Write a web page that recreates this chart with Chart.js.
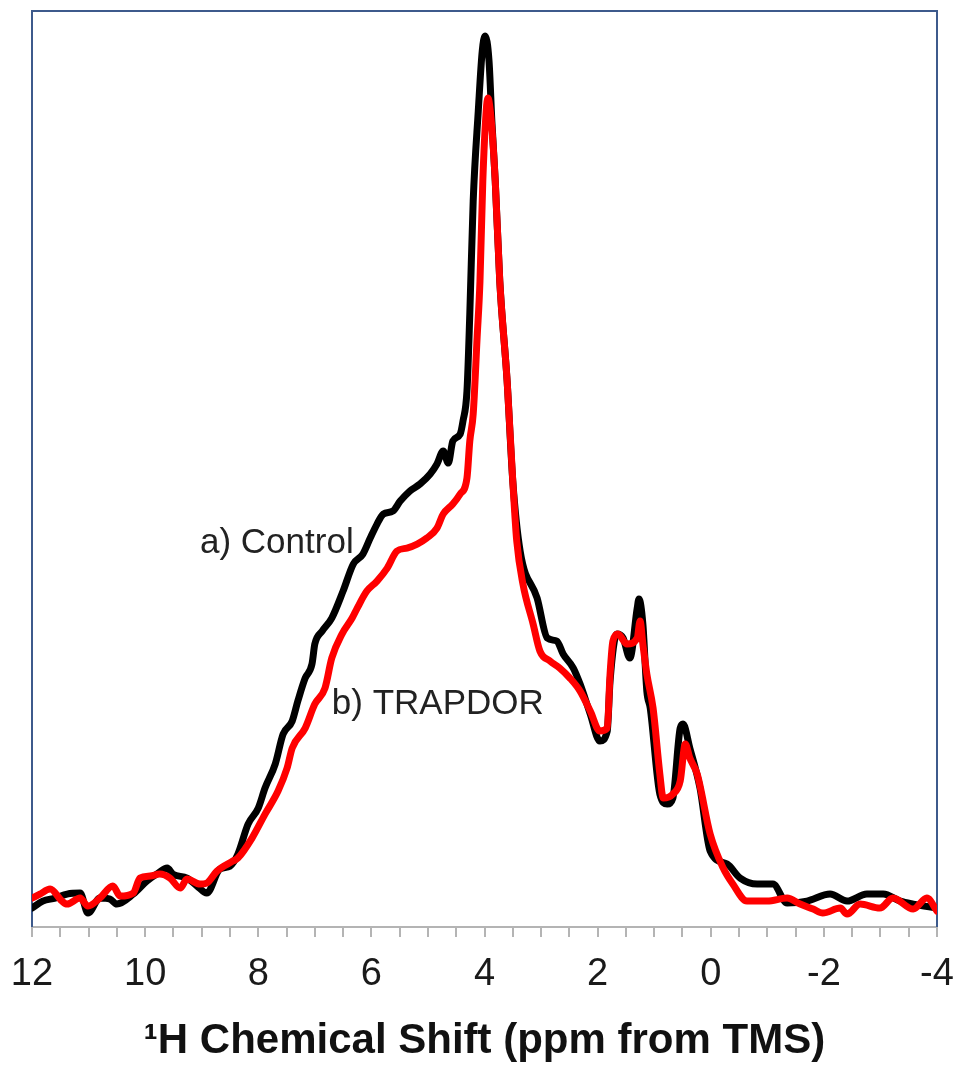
<!DOCTYPE html>
<html>
<head>
<meta charset="utf-8">
<script src="https://cdn.jsdelivr.net/npm/chart.js@4/dist/chart.umd.min.js"></script>
<style>
  body { margin: 0; background: #fff; }
  canvas { display: block; }
</style>
</head>
<body>
<canvas id="nmrChart" width="960" height="1066"></canvas>
<script>
// a) Control spectrum: [chemical shift (ppm), intensity (a.u.)]
const controlSpectrum = [
  [12.00, 19], [11.81, 26], [11.59, 29], [11.38, 33], [11.15, 34], [11.01, 14], [10.80, 29], [10.62, 28],
  [10.50, 23], [10.21, 33], [9.97, 46], [9.77, 54], [9.61, 59], [9.51, 53], [9.26, 49], [9.08, 41],
  [8.91, 34], [8.68, 58], [8.50, 61], [8.36, 73], [8.18, 103], [8.00, 119], [7.88, 139], [7.70, 163],
  [7.56, 193], [7.40, 206], [7.30, 226], [7.17, 249], [7.05, 263], [7.00, 283], [6.87, 296], [6.70, 309],
  [6.50, 336], [6.32, 363], [6.15, 373], [6.02, 389], [5.90, 403], [5.79, 413], [5.62, 416], [5.49, 426],
  [5.32, 436], [5.14, 443], [4.96, 453], [4.84, 463], [4.73, 476], [4.64, 464], [4.56, 486], [4.43, 493],
  [4.38, 506], [4.31, 536], [4.26, 613], [4.20, 726], [4.11, 816], [4.04, 876], [3.99, 891], [3.92, 866],
  [3.87, 806], [3.81, 746], [3.73, 646], [3.60, 546], [3.50, 446], [3.37, 376], [3.07, 329], [2.89, 289],
  [2.72, 286], [2.61, 273], [2.43, 259], [2.31, 243], [2.13, 213], [1.96, 186], [1.83, 196], [1.78, 246],
  [1.66, 293], [1.55, 289], [1.43, 269], [1.30, 319], [1.27, 328], [1.20, 303], [1.13, 236], [1.07, 219],
  [0.90, 133], [0.77, 123], [0.67, 129], [0.54, 199], [0.49, 203], [0.37, 179], [0.19, 139], [0.01, 76],
  [-0.29, 63], [-0.52, 49], [-0.82, 43], [-1.10, 43], [-1.35, 24], [-1.70, 26], [-2.11, 33], [-2.41, 26],
  [-2.76, 33], [-3.05, 33], [-3.35, 26], [-3.58, 23], [-4.00, 19]
];

// b) TRAPDOR spectrum
const trapdorSpectrum = [
  [12.00, 29], [11.86, 33], [11.68, 38], [11.47, 26], [11.38, 23], [11.15, 29], [11.01, 21], [10.80, 29],
  [10.57, 41], [10.44, 31], [10.21, 34], [10.09, 49], [9.91, 51], [9.74, 53], [9.56, 49], [9.38, 39],
  [9.26, 48], [9.03, 43], [8.91, 44], [8.73, 56], [8.45, 66], [8.36, 69], [8.11, 89], [7.88, 113],
  [7.65, 136], [7.49, 159], [7.40, 179], [7.17, 199], [7.00, 223], [6.82, 239], [6.70, 269], [6.52, 293],
  [6.34, 309], [6.25, 319], [6.08, 336], [5.90, 346], [5.72, 359], [5.55, 376], [5.37, 379], [5.19, 383],
  [5.02, 389], [4.84, 399], [4.73, 413], [4.56, 423], [4.43, 433], [4.31, 449], [4.26, 486], [4.20, 513],
  [4.13, 590], [4.08, 646], [4.03, 746], [3.97, 816], [3.94, 829], [3.88, 806], [3.81, 746], [3.73, 646],
  [3.60, 546], [3.50, 446], [3.43, 386], [3.32, 343], [3.14, 303], [3.02, 276], [2.84, 266], [2.67, 259],
  [2.49, 249], [2.31, 236], [2.13, 216], [1.96, 196], [1.83, 199], [1.78, 253], [1.73, 286], [1.64, 293],
  [1.48, 283], [1.30, 289], [1.25, 306], [1.20, 283], [1.13, 253], [1.02, 219], [0.90, 153], [0.84, 129],
  [0.67, 133], [0.54, 146], [0.45, 183], [0.37, 169], [0.24, 153], [0.01, 93], [-0.22, 59], [-0.39, 43],
  [-0.64, 26], [-1.00, 26], [-1.35, 29], [-1.58, 23], [-1.81, 18], [-1.98, 14], [-2.29, 19], [-2.41, 13],
  [-2.64, 23], [-2.99, 19], [-3.22, 29], [-3.58, 18], [-3.82, 29], [-4.00, 16]
];

// x axis: labelled every 2 ppm, minor ticks every 0.5 ppm
const tickLabels = [12, 10, 8, 6, 4, 2, 0, -2, -4];

// curve labels placed in data coordinates (ppm, intensity)
const curveLabels = [
  { text: 'a) Control', x: 9.03, y: 374 },
  { text: 'b) TRAPDOR', x: 6.70, y: 213 }
];

function toPoints(pairs) {
  return pairs.map(p => ({ x: p[0], y: p[1] }));
}

const frameAndLabels = {
  id: 'frameAndLabels',
  beforeDatasetsDraw(chart) {
    const { ctx, chartArea } = chart;
    ctx.save();
    ctx.strokeStyle = '#3d5a8c';
    ctx.lineWidth = 2;
    ctx.beginPath();
    ctx.moveTo(chartArea.left, chartArea.bottom);
    ctx.lineTo(chartArea.left, chartArea.top);
    ctx.lineTo(chartArea.right, chartArea.top);
    ctx.lineTo(chartArea.right, chartArea.bottom);
    ctx.stroke();
    ctx.restore();
  },
  afterDatasetsDraw(chart) {
    const { ctx, scales } = chart;
    ctx.save();
    ctx.fillStyle = '#222';
    ctx.font = '35px "Liberation Sans", Arial, sans-serif';
    ctx.textAlign = 'left';
    ctx.textBaseline = 'alphabetic';
    curveLabels.forEach(l => {
      ctx.fillText(l.text, scales.x.getPixelForValue(l.x), scales.y.getPixelForValue(l.y));
    });
    ctx.restore();
  }
};

const ctx = document.getElementById('nmrChart').getContext('2d');
const nmrChart = new Chart(ctx, {
  type: 'line',
  data: {
    datasets: [
      {
        label: 'b) TRAPDOR',
        data: toPoints(trapdorSpectrum),
        borderColor: '#ff0000',
        order: 1
      },
      {
        label: 'a) Control',
        data: toPoints(controlSpectrum),
        borderColor: '#000000',
        order: 2
      }
    ]
  },
  options: {
    responsive: false,
    animation: false,
    parsing: false,
    layout: { padding: { left: 32, right: 23, top: 11, bottom: 0 } },
    elements: {
      line: {
        borderWidth: 7,
        fill: false,
        cubicInterpolationMode: 'monotone',
        borderJoinStyle: 'round',
        borderCapStyle: 'round'
      },
      point: { radius: 0 }
    },
    plugins: {
      legend: { display: false },
      tooltip: { enabled: false }
    },
    scales: {
      x: {
        type: 'linear',
        reverse: true,
        min: -4,
        max: 12,
        border: { color: '#b4b4b4', width: 2 },
        grid: { drawOnChartArea: false, tickLength: 10, color: '#b4b4b4', lineWidth: 2 },
        ticks: {
          stepSize: 0.5,
          autoSkip: false,
          maxRotation: 0,
          padding: 5,
          color: '#1a1a1a',
          font: { family: '"Liberation Sans", Arial, sans-serif', size: 38, lineHeight: 1.7 },
          callback: value => tickLabels.includes(value) ? String(value) : ''
        },
        title: {
          display: true,
          text: '\u00B9H Chemical Shift (ppm from TMS)',
          color: '#111',
          padding: { top: 6, bottom: 0 },
          font: { family: '"Liberation Sans", Arial, sans-serif', size: 42, weight: 'bold', lineHeight: 1.15 }
        }
      },
      y: {
        display: false,
        min: 0,
        max: 916
      }
    }
  },
  plugins: [frameAndLabels]
});
</script>
</body>
</html>
